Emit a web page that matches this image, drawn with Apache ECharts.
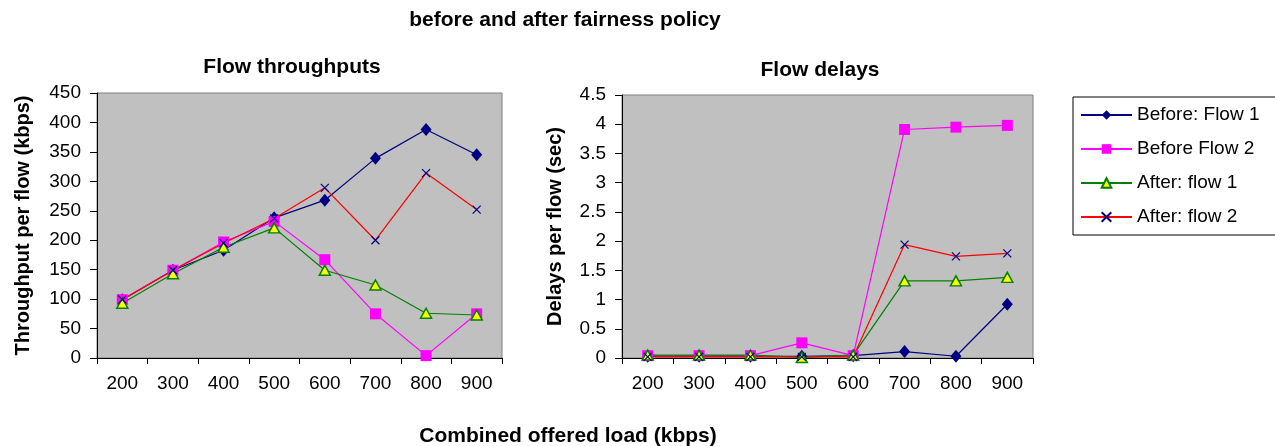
<!DOCTYPE html>
<html>
<head>
<meta charset="utf-8">
<script src="https://cdn.jsdelivr.net/npm/echarts@6/dist/echarts.min.js"></script>
<style>
  html, body { margin: 0; padding: 0; background: #ffffff; }
  #chart { width: 1275px; height: 446px; }
</style>
</head>
<body>
<div id="chart"></div>
<script>
// Offered load categories (kbps)
const loads = ['200', '300', '400', '500', '600', '700', '800', '900'];

// Per-flow throughput (kbps)
const thrBeforeFlow1 = [99, 149, 183, 238, 268, 339, 388, 345];
const thrBeforeFlow2 = [99, 149, 197, 232, 167, 75, 4, 75];
const thrAfterFlow1 = [93, 143, 188, 221, 149, 124, 76, 73];
const thrAfterFlow2 = [99, 149, 195, 237, 289, 200, 314, 252];

// Per-flow delay (sec)
const dlyBeforeFlow1 = [0.03, 0.03, 0.03, 0.03, 0.04, 0.11, 0.03, 0.92];
const dlyBeforeFlow2 = [0.04, 0.04, 0.04, 0.26, 0.04, 3.91, 3.95, 3.98];
const dlyAfterFlow1 = [0.05, 0.05, 0.05, 0.01, 0.05, 1.32, 1.32, 1.38];
const dlyAfterFlow2 = [0.02, 0.02, 0.02, 0.02, 0.02, 1.94, 1.74, 1.79];

const seriesNames = ['Before: Flow 1', 'Before Flow 2', 'After: flow 1', 'After: flow 2'];

const FONT = '"Liberation Sans", Arial, sans-serif';
const crossPath = 'path://M0,0L10,10M10,0L0,10';

// Marker / line styles for the four flows
const styles = [
  { symbol: 'diamond', symbolSize: [11, 13], line: '#000080', item: { color: '#000080' } },
  { symbol: 'rect', symbolSize: 11, line: '#FF00FF', item: { color: '#FF00FF' } },
  { symbol: 'triangle', symbolSize: [11, 10], line: '#008000', item: { color: '#FFFF00', borderColor: '#008000', borderWidth: 1.5 } },
  { symbol: crossPath, symbolSize: 8, line: '#FF0000', item: { color: 'none', borderColor: '#000080', borderWidth: 1.2 } }
];

function makeSeries(idx, data, axisIndex) {
  const s = styles[idx];
  return {
    name: seriesNames[idx],
    type: 'line',
    xAxisIndex: axisIndex,
    yAxisIndex: axisIndex,
    data: data,
    symbol: s.symbol,
    symbolSize: s.symbolSize,
    showAllSymbol: true,
    lineStyle: { color: s.line, width: 1.2 },
    itemStyle: Object.assign({}, s.item),
    emphasis: { disabled: true },
    animation: false
  };
}

function catAxis(gridIndex) {
  return {
    type: 'category',
    gridIndex: gridIndex,
    data: loads,
    boundaryGap: true,
    axisLine: { lineStyle: { color: '#000000', width: 1 } },
    axisTick: { show: true, length: 6, alignWithLabel: false, lineStyle: { color: '#000000' } },
    axisLabel: { color: '#000000', fontSize: 19, fontFamily: FONT, margin: 16 },
    splitLine: { show: false }
  };
}

function valAxis(gridIndex, max, interval, name, gap) {
  return {
    type: 'value',
    gridIndex: gridIndex,
    min: 0,
    max: max,
    interval: interval,
    name: name,
    nameLocation: 'middle',
    nameGap: gap,
    nameRotate: 90,
    nameTextStyle: { color: '#000000', fontSize: 20, fontWeight: 'bold', fontFamily: FONT },
    axisLine: { show: true, lineStyle: { color: '#000000', width: 1 } },
    axisTick: { show: true, length: 7, lineStyle: { color: '#000000' } },
    axisLabel: { color: '#000000', fontSize: 19, fontFamily: FONT, margin: 16 },
    splitLine: { show: false }
  };
}

function heading(text, x, y) {
  return {
    type: 'text',
    x: x,
    y: y,
    style: { text: text, align: 'center', verticalAlign: 'middle', fill: '#000000', font: 'bold 21px ' + FONT }
  };
}

const chart = echarts.init(document.getElementById('chart'), null, { renderer: 'canvas' });

chart.setOption({
  backgroundColor: '#ffffff',
  animation: false,
  graphic: [
    heading('before and after fairness policy', 565, 20),
    heading('Flow throughputs', 292, 67),
    heading('Flow delays', 820, 70),
    heading('Combined offered load (kbps)', 568, 436)
  ],
  legend: {
    orient: 'vertical',
    left: 1073,
    top: 97,
    padding: [8, 30, 8, 7],
    itemGap: 14,
    itemWidth: 51,
    itemHeight: 12,
    borderColor: '#000000',
    borderWidth: 1,
    backgroundColor: '#ffffff',
    selectedMode: false,
    textStyle: { color: '#000000', fontSize: 19, fontFamily: FONT, lineHeight: 20 },
    data: seriesNames
  },
  grid: [
    { left: 97, top: 93, right: 773, bottom: 88, show: true, backgroundColor: '#C0C0C0', borderColor: '#808080', borderWidth: 1 },
    { left: 622, top: 95, right: 242, bottom: 88, show: true, backgroundColor: '#C0C0C0', borderColor: '#808080', borderWidth: 1 }
  ],
  xAxis: [catAxis(0), catAxis(1)],
  yAxis: [
    valAxis(0, 450, 50, 'Throughput per flow (kbps)', 64),
    valAxis(1, 4.5, 0.5, 'Delays per flow (sec)', 57)
  ],
  series: [
    makeSeries(0, thrBeforeFlow1, 0),
    makeSeries(1, thrBeforeFlow2, 0),
    makeSeries(2, thrAfterFlow1, 0),
    makeSeries(3, thrAfterFlow2, 0),
    makeSeries(0, dlyBeforeFlow1, 1),
    makeSeries(1, dlyBeforeFlow2, 1),
    makeSeries(2, dlyAfterFlow1, 1),
    makeSeries(3, dlyAfterFlow2, 1)
  ]
});
</script>
</body>
</html>
